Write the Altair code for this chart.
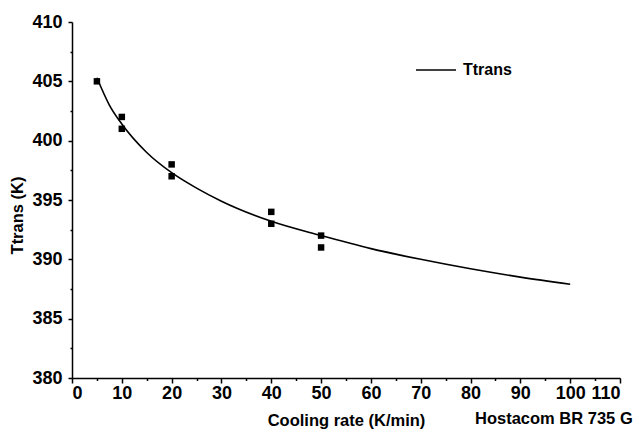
import altair as alt
import pandas as pd

# measured points (cooling rate K/min, Ttrans K)
pt_rate = [5, 10, 10, 20, 20, 40, 40, 50, 50]
pt_ttrans = [405, 402, 401, 398, 397, 394, 393, 392, 391]

# fitted curve
curve_rate = [5, 7.5, 10, 15, 20, 25, 30, 40, 50, 60, 70, 80, 90, 100]
curve_ttrans = [405.3, 403.0, 401.4, 399.0, 397.3, 396.0, 394.9, 393.2, 392.0,
                390.9, 390.0, 389.2, 388.5, 387.9]

series_name = ["Ttrans"]
note_text = ["Hostacom BR 735 G"]

x_major = [0, 10, 20, 30, 40, 50, 60, 70, 80, 90, 100, 110]
x_minor = [5, 15, 25, 35, 45, 55, 65, 75, 85, 95, 105]
y_major = [380, 385, 390, 395, 400, 405, 410]
y_minor = [382.5, 387.5, 392.5, 397.5, 402.5, 407.5]

FONT = "Liberation Sans"

pts = pd.DataFrame({"rate": pt_rate, "ttrans": pt_ttrans})
curve = pd.DataFrame({"rate": curve_rate, "ttrans": curve_ttrans,
                      "series": series_name * len(curve_rate)})
note = pd.DataFrame({"label": note_text})

xs = alt.Scale(domain=[0, 110], nice=False, zero=False)
ys = alt.Scale(domain=[380, 410], nice=False, zero=False)

points = alt.Chart(pts).mark_point(shape="square", filled=True, size=42,
                                   color="black", opacity=1).encode(
    x=alt.X("rate:Q", scale=xs,
            axis=alt.Axis(values=x_major, orient="bottom", title="Cooling rate (K/min)",
                          tickSize=5, tickWidth=1.5, tickColor="black",
                          domainColor="black", domainWidth=1.5,
                          labelFont=FONT, labelFontSize=18, labelFontWeight="bold",
                          labelColor="black", labelPadding=1,
                          titleFont=FONT, titleFontSize=16.5, titleFontWeight="bold",
                          titleColor="black", titlePadding=10, grid=False,
                          format="d")),
    y=alt.Y("ttrans:Q", scale=ys,
            axis=alt.Axis(values=y_major, orient="left", title="Ttrans (K)",
                          tickSize=4, tickWidth=1.5, tickColor="black",
                          domainColor="black", domainWidth=1.5,
                          labelFont=FONT, labelFontSize=18, labelFontWeight="bold",
                          labelColor="black", labelPadding=6,
                          titleFont=FONT, titleFontSize=16.5, titleFontWeight="bold",
                          titleColor="black", titleX=-47, titleY=193, grid=False,
                          format="d")),
)

line = alt.Chart(curve).mark_line(interpolate="monotone", strokeWidth=1.6).encode(
    x=alt.X("rate:Q", scale=xs,
            axis=alt.Axis(values=x_minor, orient="bottom", title=None, labels=False,
                          domain=False, tickSize=2.5, tickWidth=1.5,
                          tickColor="black", grid=False)),
    y=alt.Y("ttrans:Q", scale=ys,
            axis=alt.Axis(values=y_minor, orient="left", title=None, labels=False,
                          domain=False, tickSize=2, tickWidth=1.5,
                          tickColor="black", grid=False)),
    color=alt.Color("series:N",
                    scale=alt.Scale(domain=series_name, range=["black"]),
                    legend=alt.Legend(title=None, orient="none", legendX=343,
                                      legendY=27, symbolType="stroke",
                                      symbolSize=1600, symbolStrokeWidth=1.6,
                                      labelFont=FONT, labelFontSize=16,
                                      labelFontWeight="bold", labelColor="black",
                                      labelOffset=6, padding=0)),
)

text = alt.Chart(note).mark_text(align="left", baseline="alphabetic", font=FONT,
                                 fontSize=16.5, fontWeight="bold", color="black").encode(
    x=alt.value(403), y=alt.value(402), text="label:N"
)

chart = alt.layer(points, line, text).resolve_axis(
    x="independent", y="independent"
).properties(
    width=548, height=356,
    autosize=alt.AutoSizeParams(type="none"),
    padding={"left": 72, "top": 22, "right": 19, "bottom": 57},
    background="white",
).configure_view(stroke=None)

chart.save("out.html", embed_options={"renderer": "svg", "actions": False})
